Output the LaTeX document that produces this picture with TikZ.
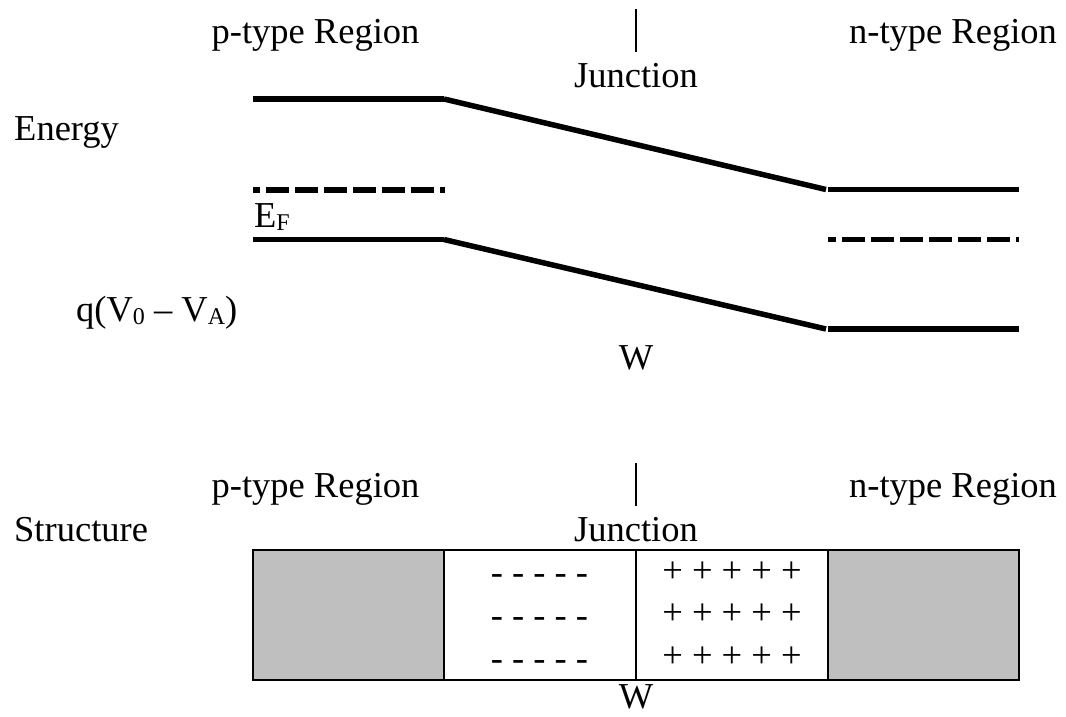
\documentclass[tikz,border=0pt]{standalone}
\usepackage{fontspec}
\setmainfont{Liberation Serif}
\definecolor{boxgray}{RGB}{191,191,191}
\newcommand{\lowsub}[1]{\raisebox{-3pt}{\fontsize{24}{24}\selectfont #1}}
\begin{document}
\begin{tikzpicture}[x=1pt,y=-1pt,
  lbl/.style={inner sep=0pt, anchor=base, font=\fontsize{36.5}{44}\selectfont},
  lblw/.style={lbl, anchor=base west},
  band/.style={line width=5.5pt, line cap=butt},
  fermi/.style={line width=5.5pt, line cap=butt, dash pattern=on 23.3pt off 5.7pt},
  junc/.style={line width=2pt},
  region/.style={line width=2.6pt},
  charge/.style={inner sep=0pt, anchor=base, font=\fontsize{36.5}{44}\selectfont}]
\useasboundingbox (0,0) rectangle (1066,716);

% ---------- Energy diagram ----------
\node[lbl] (ptop) at (315.5,43) {p-type Region};
\node[lbl] (ntop) at (953,43) {n-type Region};
\coordinate (jt1) at (636,9);
\coordinate (jt2) at (636,52);
\draw[junc] (jt1) -- (jt2);
\node[lbl] (jtop) at (636,87) {Junction};
\node[lblw] (energy) at (14,140) {Energy};
\node[lblw] (ef) at (254,227) {E\lowsub{F}};
\node[lblw] (qv) at (76,321) {q(V\lowsub{0} – V\lowsub{A})};
\node[lbl] (wtop) at (636,369) {W};

% conduction band
\coordinate (cb1) at (253,99);
\coordinate (cb2) at (444,99);
\coordinate (cb3) at (826,189.5);
\coordinate (cb4) at (828,189.5);
\coordinate (cb5) at (1019,189.5);
\draw[band] (cb1) -- (cb2);
\draw[band] (cb2) -- (cb3);
\draw[band] (cb4) -- (cb5);
% valence band
\coordinate (vb1) at (253,239.5);
\coordinate (vb2) at (444,239.5);
\coordinate (vb3) at (826,329);
\coordinate (vb4) at (828,329);
\coordinate (vb5) at (1019,329);
\draw[band] (vb1) -- (vb2);
\draw[band] (vb2) -- (vb3);
\draw[band] (vb4) -- (vb5);
% Fermi levels
\coordinate (fp1) at (253,190);
\coordinate (fp2) at (445,190);
\coordinate (fn1) at (828,239.5);
\coordinate (fn2) at (1019,239.5);
\draw[fermi, dash phase=16pt] (fp1) -- (fp2);
\draw[fermi, dash phase=15pt] (fn1) -- (fn2);

% ---------- Structure ----------
\node[lbl] (pbot) at (315.5,497) {p-type Region};
\node[lbl] (nbot) at (953,497) {n-type Region};
\coordinate (jb1) at (636,463);
\coordinate (jb2) at (636,506);
\draw[junc] (jb1) -- (jb2);
\node[lbl] (jbot) at (636,541) {Junction};
\node[lblw] (structure) at (14,541) {Structure};

\coordinate (b1) at (253,550);
\coordinate (b2) at (444,680);
\coordinate (b3) at (636,550);
\coordinate (b4) at (828,680);
\coordinate (b5) at (1019,550);
\draw[region, fill=boxgray] (b1) rectangle (b2);
\draw[region] (b2 |- b1) rectangle (b4);
\draw[region] (b3) -- (b3 |- b4);
\draw[region, fill=boxgray] (b4) rectangle (b5);

\foreach \yy/\nm in {584/1, 627/2, 670/3}
  \node[charge] (minus\nm) at (539.5,\yy) {- - - - -};
\foreach \yy/\nm in {582/1, 624/2, 667/3}
  \node[charge] (plus\nm) at (732,\yy) {+ + + + +};
\node[lbl] (wbot) at (636,708) {W};
\end{tikzpicture}
\end{document}
